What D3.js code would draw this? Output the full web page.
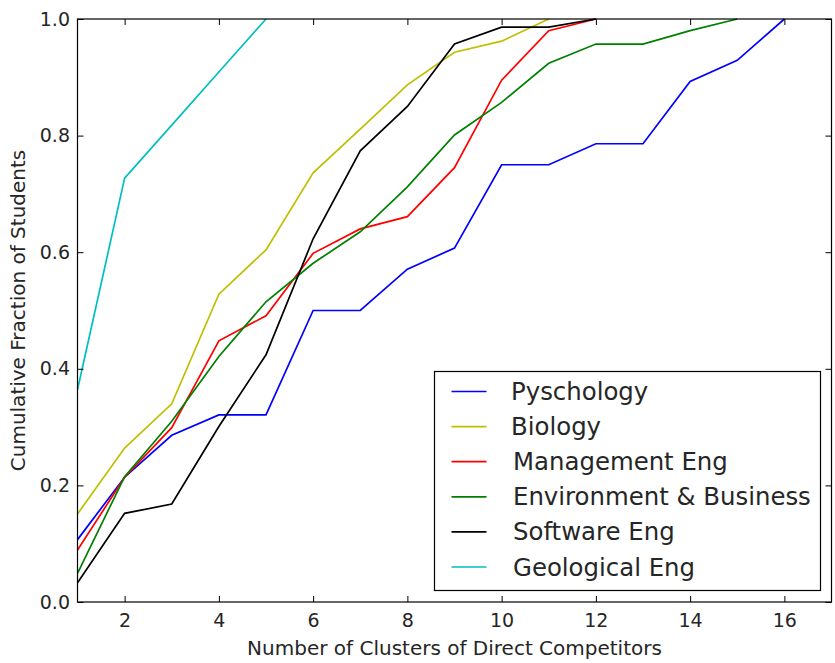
<!DOCTYPE html>
<html><head><meta charset="utf-8">
<script src="https://cdn.jsdelivr.net/npm/d3@7"></script>
<style>body{margin:0;background:#fff}svg{display:block}text{font-family:"DejaVu Sans",sans-serif;fill:#262626}</style>
</head><body><svg id="c" width="835" height="663"></svg>
<script>
const seriesNames = ["Pyschology","Biology","Management Eng","Environment & Business","Software Eng","Geological Eng"];
const seriesColors = ["#0000ff","#bfbf00","#ff0000","#008000","#000000","#00bfbf"];
const psychology = [0.107,0.214,0.286,0.321,0.321,0.5,0.5,0.571,0.607,0.75,0.75,0.786,0.786,0.893,0.929,1.0];
const biology = [0.151,0.264,0.340,0.528,0.604,0.736,0.811,0.887,0.943,0.962,1.0];
const management = [0.089,0.214,0.299,0.448,0.491,0.598,0.640,0.661,0.745,0.895,0.980,1.0];
const environment = [0.049,0.215,0.310,0.421,0.515,0.581,0.635,0.712,0.801,0.857,0.924,0.957,0.957,0.980,1.0];
const software = [0.033,0.152,0.168,0.301,0.424,0.623,0.774,0.850,0.957,0.986,0.986,1.0];
const geological = [0.364,0.727,0.818,0.909,1.0];
const xTicks = [2,4,6,8,10,12,14,16];
const yTicks = [0.0,0.2,0.4,0.6,0.8,1.0];
const allSeries = [psychology,biology,management,environment,software,geological];

const svg = d3.select("#c");
const L=77.5,R=831.5,T=19,B=602;
const x = d3.scaleLinear().domain([1,17]).range([L,R]);
const y = d3.scaleLinear().domain([0,1]).range([B,T]);

svg.append("clipPath").attr("id","clip").append("rect").attr("x",L).attr("y",T-1).attr("width",R-L).attr("height",B-T+1);

const line = d3.line().x((d,i)=>x(i+1)).y(d=>y(d));
allSeries.forEach((s,k)=>{
  svg.append("path").datum(s).attr("d",line).attr("fill","none")
    .attr("stroke",seriesColors[k]).attr("stroke-width",1.7).attr("clip-path","url(#clip)");
});

const tl=6;
const gB = svg.append("g").attr("transform",`translate(0,${B})`).call(d3.axisBottom(x).tickValues(xTicks).tickSizeInner(-tl).tickSizeOuter(0).tickPadding(11.5).tickFormat(d3.format("d")));
const gT = svg.append("g").attr("transform",`translate(0,${T})`).call(d3.axisTop(x).tickValues(xTicks).tickSizeInner(-tl).tickSizeOuter(0).tickFormat(""));
const gL = svg.append("g").attr("transform",`translate(${L},0)`).call(d3.axisLeft(y).tickValues(yTicks).tickSizeInner(-tl).tickSizeOuter(0).tickPadding(7.5).tickFormat(d3.format(".1f")));
const gR = svg.append("g").attr("transform",`translate(${R},0)`).call(d3.axisRight(y).tickValues(yTicks).tickSizeInner(-tl).tickSizeOuter(0).tickFormat(""));
[gB,gT,gL,gR].forEach(g=>{g.select(".domain").remove();g.selectAll("line").attr("stroke","#000");g.selectAll("text").attr("font-size",19).attr("fill","#262626").attr("font-family","DejaVu Sans");});
svg.append("rect").attr("x",L).attr("y",T).attr("width",R-L).attr("height",B-T).attr("fill","none").attr("stroke","#000").attr("stroke-width",1.2);

svg.append("text").attr("x",(L+R)/2).attr("y",655).attr("text-anchor","middle").attr("font-size",20).text("Number of Clusters of Direct Competitors");
svg.append("text").attr("transform",`translate(24.5,${(T+B)/2}) rotate(-90)`).attr("text-anchor","middle").attr("font-size",20).text("Cumulative Fraction of Students");

const lg = svg.append("g");
lg.append("rect").attr("x",434.5).attr("y",371.5).attr("width",386).attr("height",219).attr("fill","#fff").attr("stroke","#000").attr("stroke-width",1.2);
seriesNames.forEach((n,i)=>{
  const yy = 391.5 + i*35.1;
  lg.append("line").attr("x1",451.5).attr("x2",486.5).attr("y1",yy).attr("y2",yy).attr("stroke",seriesColors[i]).attr("stroke-width",1.7);
  lg.append("text").attr("x",i<2?511:513).attr("y",yy).attr("dy","0.35em").attr("font-size",24.4).text(n);
});
</script></body></html>
